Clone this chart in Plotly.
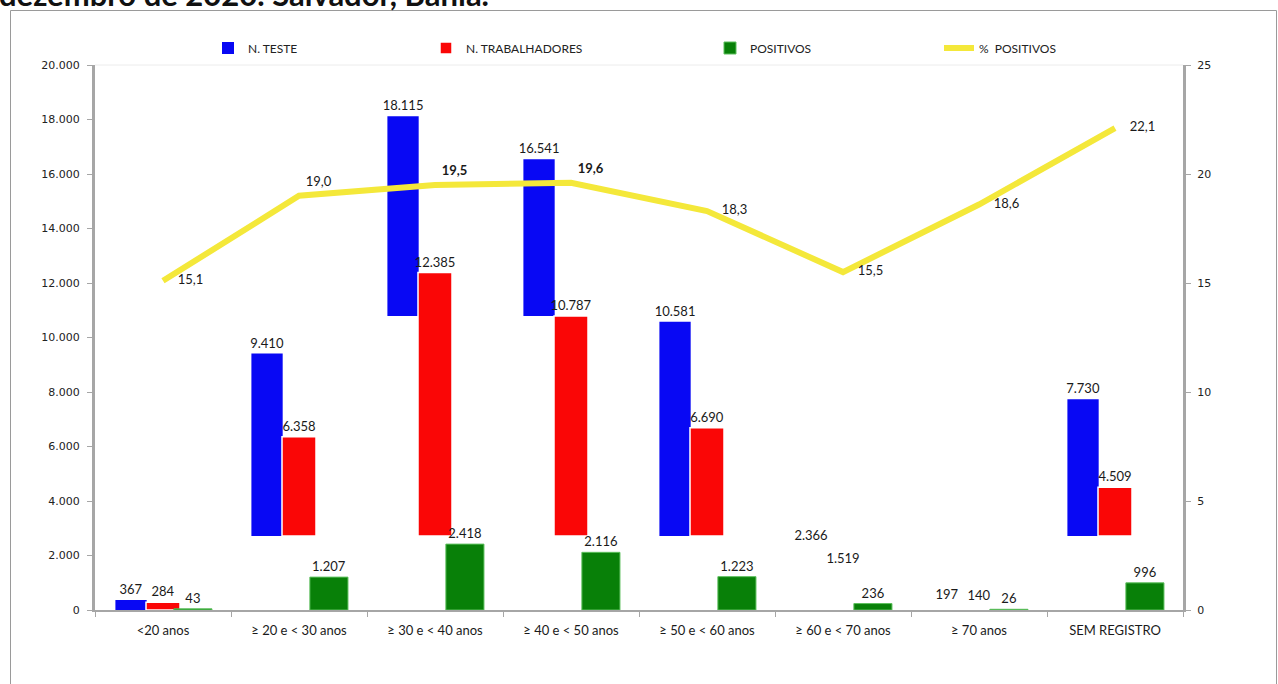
import plotly.graph_objects as go

# ---------------- data ----------------
categorias = ["<20 anos", "≥ 20 e < 30 anos", "≥ 30 e < 40 anos", "≥ 40 e < 50 anos",
              "≥ 50 e < 60 anos", "≥ 60 e < 70 anos", "≥ 70 anos", "SEM REGISTRO"]
n_teste = [367, 9410, 18115, 16541, 10581, 2366, 197, 7730]
n_trabalhadores = [284, 6358, 12385, 10787, 6690, 1519, 140, 4509]
positivos = [43, 1207, 2418, 2116, 1223, 236, 26, 996]
pct_positivos = [15.1, 19.0, 19.5, 19.6, 18.3, 15.5, 18.6, 22.1]
pct_destaque = ["≥ 30 e < 40 anos", "≥ 40 e < 50 anos"]   # bold labels
pct_acima = ["≥ 20 e < 30 anos", "≥ 30 e < 40 anos", "≥ 40 e < 50 anos"]  # labels above the line

titulo = "dezembro de 2020. Salvador, Bahia."

# ------------- rendering quirks of the original (visible parts of the bars) -------------
LOW_CUT = 2716       # blue/red bars are only visible above this level in the original
HIGH_CUT = 10787     # the two tallest blue bars are visible only above this level
TALL = 15000
HIDDEN = ["≥ 60 e < 70 anos", "≥ 70 anos"]   # blue/red bars not drawn in these groups


def bases(values, tall_limit=None):
    out = []
    for c, v in zip(categorias, values):
        if c == categorias[0]:
            out.append(0)
        elif tall_limit is not None and v > tall_limit:
            out.append(HIGH_CUT)
        elif v > LOW_CUT:
            out.append(LOW_CUT)
        else:
            out.append(0)
    return out


def colors(color):
    return ["rgba(0,0,0,0)" if c in HIDDEN else color for c in categorias]


def fmt(v):
    return f"{v:,}".replace(",", ".")


# ------------- layout geometry -------------
W, H = 1278, 684
L, R, T, B = 95, 1183, 65, 610
pw, ph = R - L, B - T


def px_x(x):
    return (x - L) / pw


def px_y(y):
    return (B - y) / ph


FONT = "Lato, 'Open Sans', sans-serif"
BLUE, RED, GREEN, YELLOW = "#0808F4", "#FA0606", "#088008", "#F4E83A"
LABEL_FONT = dict(family=FONT, size=13, color="#1a1a1a")

fig = go.Figure()

b_teste = bases(n_teste, TALL)
fig.add_trace(go.Bar(
    name="N. TESTE", x=categorias, y=[v - b for v, b in zip(n_teste, b_teste)],
    base=b_teste, offset=-0.35, width=0.23,
    marker=dict(color=colors(BLUE), line=dict(width=0)),
    text=[fmt(v) for v in n_teste], textposition="outside",
    textfont=LABEL_FONT, constraintext="none", cliponaxis=False, legend="legend",
))
b_trab = bases(n_trabalhadores)
fig.add_trace(go.Bar(
    name="N. TRABALHADORES", x=categorias,
    y=[v - b for v, b in zip(n_trabalhadores, b_trab)],
    base=b_trab, offset=-0.125, width=0.25,
    marker=dict(color=colors(RED),
                line=dict(width=[0 if c in HIDDEN else 1.5 for c in categorias], color="white")),
    text=[fmt(v) for v in n_trabalhadores], textposition="outside",
    textfont=LABEL_FONT, constraintext="none", cliponaxis=False, legend="legend2",
))
fig.add_trace(go.Bar(
    name="POSITIVOS", x=categorias, y=positivos, offset=0.08, width=0.28,
    marker=dict(color=GREEN, line=dict(width=1, color="#5cbf5c")),
    text=[fmt(v) for v in positivos], textposition="outside",
    textfont=LABEL_FONT, constraintext="none", cliponaxis=False, legend="legend3",
))

pos = ["top right" if c in pct_acima else "middle right" for c in categorias]
sizes = [9 if c in pct_acima else 22 for c in categorias]
labels = [(f"<b>{v:.1f}</b>" if c in pct_destaque else f"{v:.1f}").replace(".", ",")
          for c, v in zip(categorias, pct_positivos)]
fig.add_trace(go.Scatter(
    name="%  POSITIVOS", x=categorias, y=pct_positivos, yaxis="y2",
    mode="lines+markers+text", line=dict(color=YELLOW, width=6),
    marker=dict(size=sizes, color="rgba(0,0,0,0)", opacity=0, line=dict(width=0)),
    text=labels, textposition=pos, textfont=LABEL_FONT,
    cliponaxis=False, legend="legend4",
))

tickfont = dict(family="DejaVu Sans, Verdana, sans-serif", size=11, color="#222")
leg_common = dict(orientation="h", yanchor="middle", y=px_y(48), xanchor="left",
                  bgcolor="rgba(0,0,0,0)", font=dict(family=FONT, size=12, color="#222"),
                  itemclick=False)

fig.update_layout(
    width=W, height=H,
    margin=dict(l=L, r=W - R, t=T, b=H - B, pad=0),
    paper_bgcolor="white", plot_bgcolor="white",
    barmode="overlay", separators=",.",
    showlegend=True,
    legend=dict(x=px_x(208), **leg_common),
    legend2=dict(x=px_x(426), **leg_common),
    legend3=dict(x=px_x(710), **leg_common),
    legend4=dict(x=px_x(939), **leg_common),
    xaxis=dict(type="category", range=[-0.5, 7.5], showgrid=False, showline=True,
               linecolor="#a6a6a6", linewidth=2, ticks="outside", tickson="boundaries",
               ticklen=5, tickcolor="#a6a6a6", ticklabelstandoff=7,
               tickfont=dict(family=FONT, size=13, color="#1a1a1a")),
    yaxis=dict(range=[0, 20000], dtick=2000, tickformat=",d", showgrid=False,
               showline=True, linecolor="#a6a6a6", linewidth=3, ticks="outside",
               ticklen=5, tickcolor="#a6a6a6", tickfont=tickfont, zeroline=False,
               ticklabelstandoff=5),
    yaxis2=dict(range=[0, 25], dtick=5, overlaying="y", side="right", showgrid=False,
                showline=True, linecolor="#a6a6a6", linewidth=3, ticks="outside",
                ticklen=5, tickcolor="#a6a6a6", tickfont=tickfont, zeroline=False,
                ticklabelstandoff=4),
    shapes=[
        dict(type="rect", xref="paper", yref="paper",
             x0=px_x(10.5), x1=px_x(1276.5), y0=px_y(720), y1=px_y(10.5),
             line=dict(color="#9a9a9a", width=1), layer="below"),
        dict(type="line", xref="paper", yref="paper",
             x0=0, x1=1, y0=1, y1=1, line=dict(color="#ececec", width=1)),
    ],
    annotations=[
        dict(text=f"<b>{titulo}</b>", xref="paper", yref="paper",
             x=px_x(-3), y=px_y(-1), xanchor="left", yanchor="bottom", yshift=-16,
             showarrow=False, font=dict(family=FONT, size=31, color="#111")),
    ],
)

fig.write_html("out.html")
